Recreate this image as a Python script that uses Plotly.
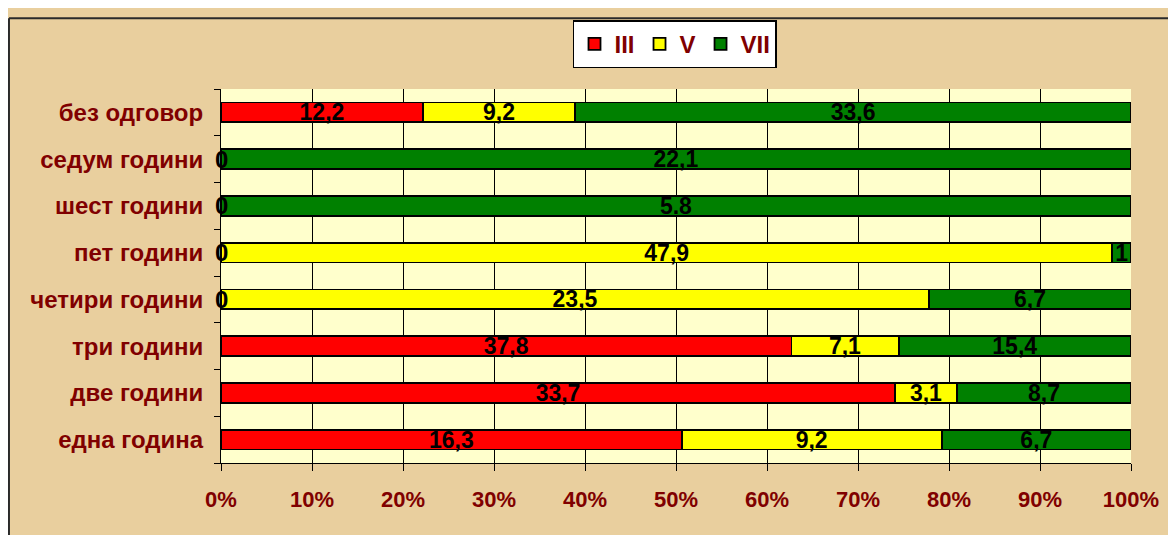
import plotly.graph_objects as go

categories = ["една година", "две години", "три години", "четири години",
              "пет години", "шест години", "седум години", "без одговор"]
series_names = ["III", "V", "VII"]
iii_vals = [16.3, 33.7, 37.8, 0, 0, 0, 0, 12.2]
v_vals = [9.2, 3.1, 7.1, 23.5, 47.9, None, None, 9.2]
vii_vals = [6.7, 8.7, 15.4, 6.7, 1, 5.8, 22.1, 33.6]
iii_text = ["16,3", "33,7", "37,8", "0", "0", "0", "0", "12,2"]
v_text = ["9,2", "3,1", "7,1", "23,5", "47,9", "", "", "9,2"]
vii_text = ["6,7", "8,7", "15,4", "6,7", "1", "5.8", "22,1", "33,6"]
x_ticks = [0, 10, 20, 30, 40, 50, 60, 70, 80, 90, 100]
x_tick_labels = ["0%", "10%", "20%", "30%", "40%", "50%", "60%", "70%", "80%", "90%", "100%"]

colors = ["#FF0000", "#FFFF00", "#008000"]
DARKRED = "#800000"
FONT = "Liberation Sans, Arial, sans-serif"

fig = go.Figure()
for name, vals, txt, col in zip(series_names, [iii_vals, v_vals, vii_vals],
                                [iii_text, v_text, vii_text], colors):
    fig.add_trace(go.Bar(
        y=categories, x=vals, name=name, orientation="h",
        marker=dict(color=col, line=dict(color="#000000", width=1.8)),
        text=txt, textposition="inside", insidetextanchor="middle",
        textangle=0, constraintext="none",
        textfont=dict(family=FONT, size=23, color="#000000", weight="bold"),
        hoverinfo="skip",
    ))

# zero-value labels at the start of the bars
for cat, v, t in zip(categories, iii_vals, iii_text):
    if v == 0:
        fig.add_annotation(x=0, y=cat, text=t, showarrow=False,
                           xanchor="center", yanchor="middle",
                           font=dict(family=FONT, size=24, color="#000000", weight="bold"))

fig.update_layout(
    width=1176, height=535,
    barmode="stack", barnorm="percent", bargap=0.58,
    paper_bgcolor="#E9CF9E", plot_bgcolor="#FFFFCC",
    margin=dict(l=213, r=53, t=75, b=80),
    font=dict(family=FONT, color=DARKRED),
    legend=dict(orientation="h", x=0.4989, y=1.184, xanchor="center", yanchor="top",
                bgcolor="#FFFFFF", bordercolor="#000000", borderwidth=1.5,
                font=dict(family=FONT, size=24, color=DARKRED, weight="bold"),
                itemwidth=30, traceorder="normal", entrywidth=0),
    showlegend=True,
)
fig.update_xaxes(
    range=[0, 100], tickvals=x_ticks, ticktext=x_tick_labels,
    showgrid=True, gridcolor="#000000", gridwidth=1,
    ticks="outside", ticklen=7, tickcolor="#000000",
    showline=True, linecolor="#000000", linewidth=1,
    tickfont=dict(family=FONT, size=22, color=DARKRED, weight="bold"),
    ticklabelstandoff=10, zeroline=False,
)
fig.update_yaxes(
    categoryorder="array", categoryarray=categories,
    tickson="boundaries", ticks="outside", ticklen=6, tickcolor="#000000",
    showline=True, linecolor="#000000", linewidth=1, showgrid=False,
    tickfont=dict(family=FONT, size=24, color=DARKRED, weight="bold"),
    ticklabelstandoff=12,
)
# outer frame lines (top and left)
fig.add_shape(type="line", xref="paper", yref="paper", x0=-0.233, x1=1.2, y0=1.1895, y1=1.1895,
              line=dict(color="#2a2a2a", width=2))
fig.add_shape(type="line", xref="paper", yref="paper", x0=-0.233, x1=-0.233, y0=-0.3, y1=1.1895,
              line=dict(color="#2a2a2a", width=2))

fig.write_html("out.html")
